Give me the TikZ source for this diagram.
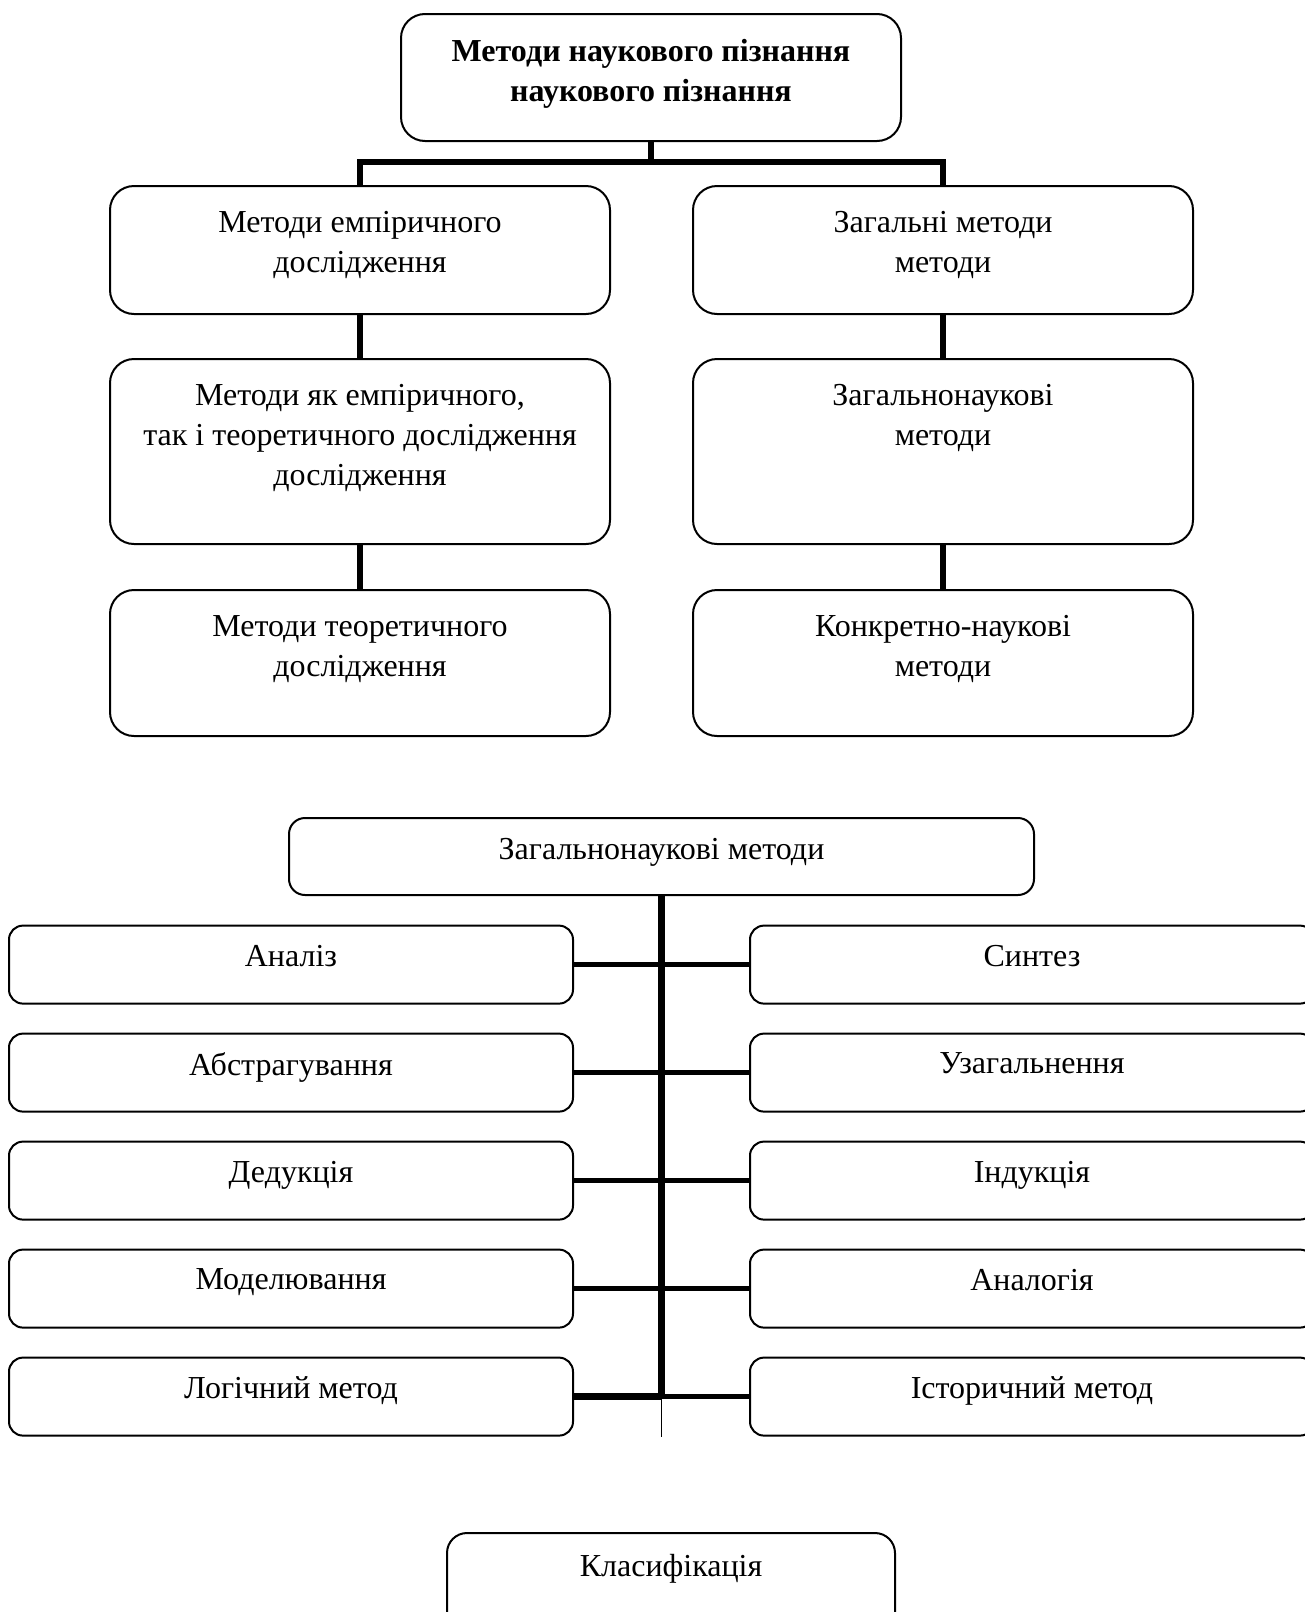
\documentclass[tikz,border=0pt]{standalone}
\usepackage{fontspec}
\setmainfont{Liberation Serif}
\tikzset{
	blk/.style={draw, line width=1pt, rounded corners=12pt, minimum width=250pt, inner sep=0pt},
	item/.style={draw, line width=1pt, rounded corners=7pt, minimum width=282pt, minimum height=39pt, inner sep=0pt},
	txt/.style={anchor=north, inner sep=0pt, align=center, yshift=#1},
	txt/.default=-13pt,
	link/.style={line width=3pt},
	branch/.style={line width=2.5pt}
}
\begin{document}
\begin{tikzpicture}[x=0.5pt, y=-0.5pt, font=\fontsize{16}{20}\selectfont]
				\useasboundingbox (0,0) rectangle (1305,1612);
				% upper scheme
				\node[blk, minimum height=63.5pt, label={[txt, font=\fontsize{16}{20}\selectfont\bfseries]north:{Методи наукового пізнання\\наукового пізнання}}] (root) at (651,77.5) {};
				\node[blk, minimum height=64pt, label={[txt]north:{Методи емпіричного\\дослідження}}] (emp) at (360,250) {};
				\node[blk, minimum height=64pt, label={[txt]north:{Загальні методи\\методи}}] (zag) at (943,250) {};
				\node[blk, minimum height=92.5pt, label={[txt]north:{Методи як емпіричного,\\так і теоретичного дослідження\\дослідження}}] (both) at (360,451.5) {};
				\node[blk, minimum height=92.5pt, label={[txt]north:{Загальнонаукові\\методи}}] (znm) at (943,451.5) {};
				\node[blk, minimum height=73pt, label={[txt]north:{Методи теоретичного\\дослідження}}] (teor) at (360,663) {};
				\node[blk, minimum height=73pt, label={[txt]north:{Конкретно-наукові\\методи}}] (konk) at (943,663) {};
				\coordinate (bus) at (651,162);
				\draw [link] (root.south) -- (bus);
				\draw [link] (emp.north) |- (bus) -| (zag.north);
				\draw [link] (emp.south) -- (both.north);
				\draw [link] (both.south) -- (teor.north);
				\draw [link] (zag.south) -- (znm.north);
				\draw [link] (znm.south) -- (konk.north);
				% lower scheme
				\node[blk, rounded corners=8pt, minimum width=372.5pt, minimum height=38.5pt, label={[txt=-10.5pt]north:Загальнонаукові методи}] (gen) at (661.5,856.5) {};
				\node[item, label={[txt=-10pt]north:Аналіз}] (anal) at (291,964.6) {};
				\node[item, label={[txt=-10pt]north:Абстрагування}] (abstr) at (291,1072.6) {};
				\node[item, label={[txt=-10pt]north:Дедукція}] (ded) at (291,1180.6) {};
				\node[item, label={[txt=-10pt]north:Моделювання}] (model) at (291,1288.6) {};
				\node[item, label={[txt=-10pt]north:Логічний метод}] (logic) at (291,1396.6) {};
				\node[item, label={[txt=-10pt]north:Синтез}] (synt) at (1032,964.6) {};
				\node[item, label={[txt=-10pt]north:Узагальнення}] (uzag) at (1032,1072.6) {};
				\node[item, label={[txt=-10pt]north:Індукція}] (ind) at (1032,1180.6) {};
				\node[item, label={[txt=-10pt]north:Аналогія}] (analog) at (1032,1288.6) {};
				\node[item, label={[txt=-10pt]north:Історичний метод}] (hist) at (1032,1396.6) {};
				\coordinate (stub) at (661.5,1437);
				\draw [line width=3.5pt] (gen.south) -- (gen.south |- logic.east);
				\draw [line width=0.75pt] (gen.south |- logic.east) -- (stub);
				\draw [branch] (anal.east) -- (synt.west);
				\draw [branch] (abstr.east) -- (uzag.west);
				\draw [branch] (ded.east) -- (ind.west);
				\draw [branch] (model.east) -- (analog.west);
				\draw [line width=3.5pt] (logic.east) -- (logic.east -| gen.south);
				\draw [branch] (hist.west) -- (hist.west -| gen.south);
				% bottom box
				\node[blk, rounded corners=10pt, minimum width=224pt, minimum height=50pt, label={[txt=-11pt]north:Класифікація}] (klas) at (671,1583) {};
			\end{tikzpicture}
\end{document}
